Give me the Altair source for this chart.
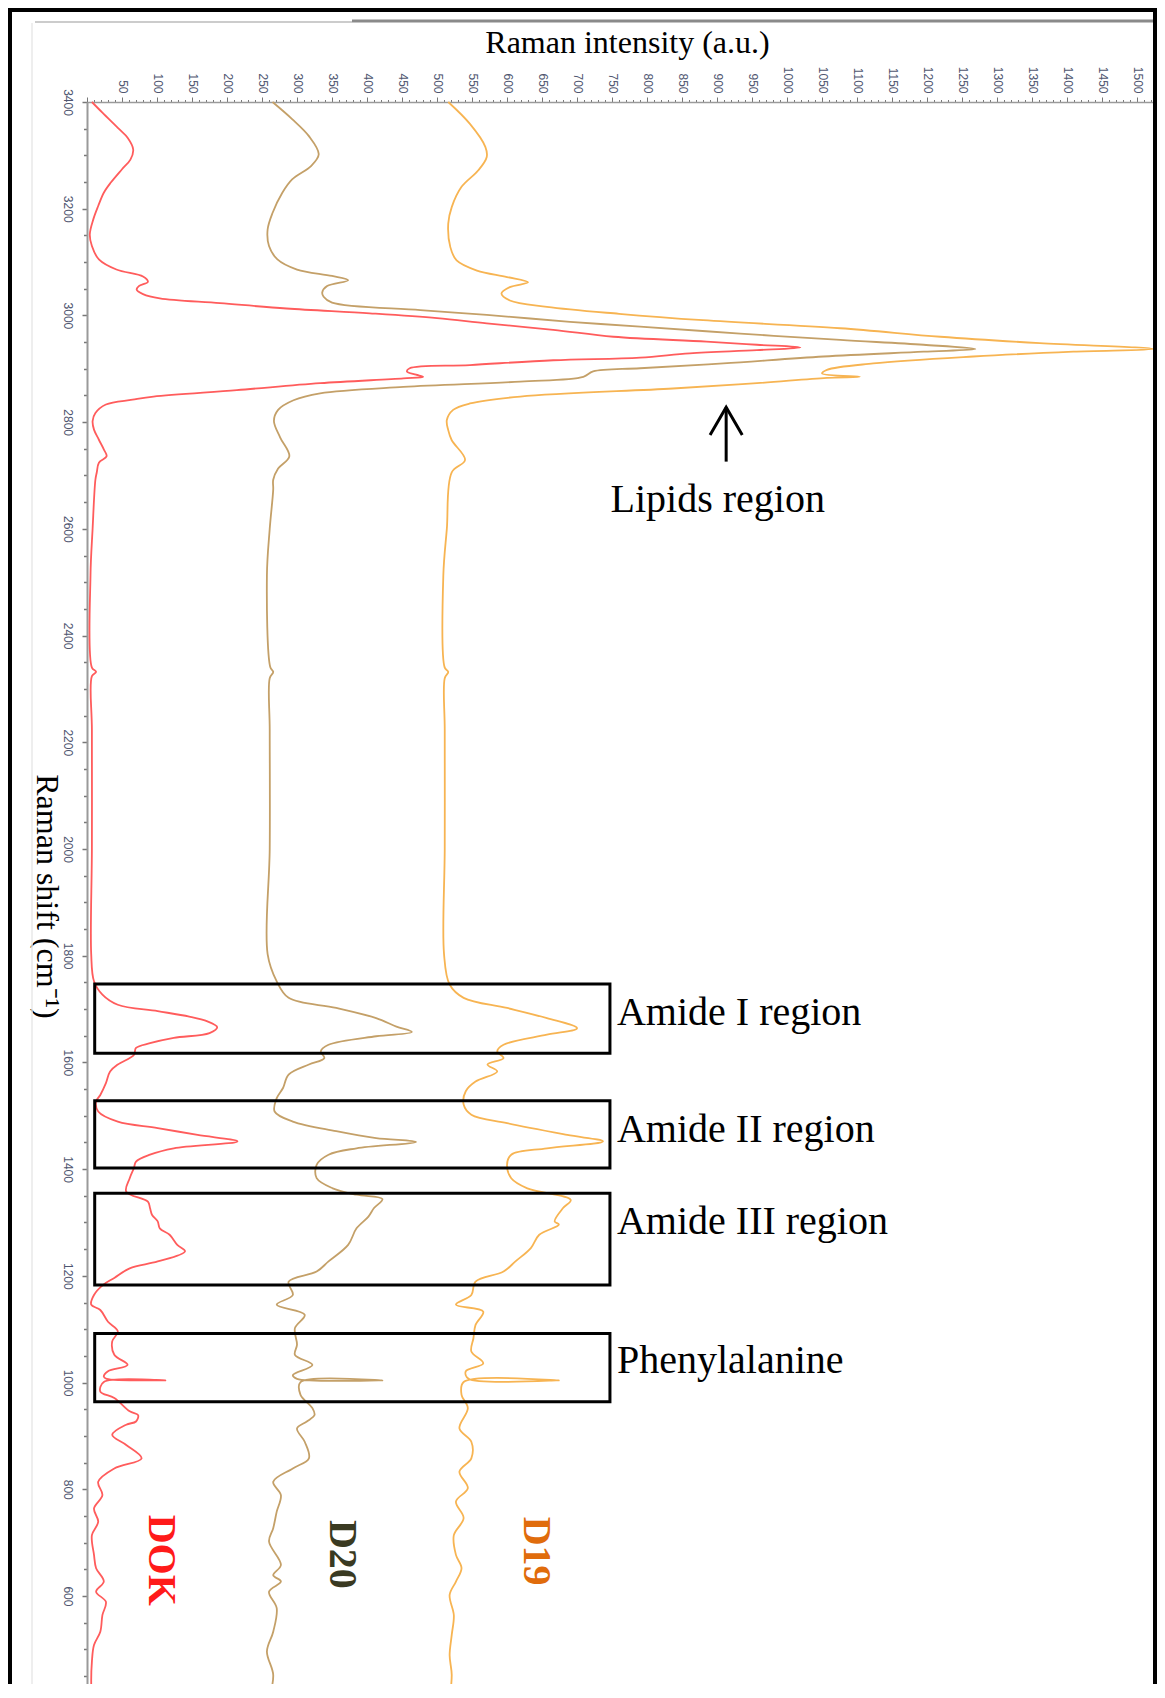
import altair as alt
import pandas as pd

# ---------------- data ----------------
dok_shift = [3400, 3380, 3349, 3333, 3311, 3292, 3274, 3249, 3230, 3205, 3180, 3152, 3130, 3105,
             3086, 3073, 3063, 3055, 3048, 3040, 3032, 3023, 3013, 3004, 2995, 2985, 2973, 2960,
             2951, 2945, 2940, 2935, 2929, 2921, 2916, 2907, 2901, 2895, 2889, 2885, 2882, 2873,
             2860, 2848, 2842, 2833, 2817, 2802, 2786, 2767, 2749, 2736, 2724, 2706, 2692, 2600,
             2513, 2340, 2332, 2324, 2223, 2000, 1803, 1752, 1727, 1708, 1696, 1686, 1677, 1666,
             1655, 1646, 1636, 1627, 1614, 1596, 1583, 1561, 1539, 1527, 1508, 1489, 1477, 1464,
             1452, 1439, 1427, 1414, 1402, 1383, 1358, 1339, 1327, 1314, 1302, 1289, 1277, 1258,
             1246, 1227, 1214, 1196, 1183, 1164, 1146, 1136, 1114, 1096, 1077, 1052, 1033, 1021,
             1011, 1007, 1004, 1001, 983, 971, 946, 939, 927, 921, 902, 883, 858, 839, 814, 789,
             764, 739, 714, 677, 652, 627, 608, 589, 564, 533, 508, 477, 439, 408]
dok_int = [7, 22, 46, 58, 66, 62, 50, 34, 24, 16, 9, 4, 7, 17,
           42, 80, 87, 74, 71, 80, 104, 190, 285, 404, 500, 571, 666, 752,
           885, 957, 1019, 957, 861, 790, 666, 547, 461, 457, 470, 480, 452, 333,
           214, 95, 65, 27, 12, 8, 10, 17, 24, 28, 17, 14, 12, 8,
           5, 7, 13, 7, 7, 7, 6, 10, 22, 44, 101, 146, 172, 186,
           175, 124, 90, 70, 67, 44, 33, 27, 19, 13, 16, 44, 101, 158,
           215, 124, 90, 70, 67, 61, 56, 87, 90, 93, 101, 104, 118, 129,
           140, 101, 61, 39, 23, 10, 6, 19, 30, 44, 36, 39, 58, 30,
           24, 28, 112, 24, 19, 39, 61, 73, 70, 56, 36, 56, 78, 39, 16, 22,
           10, 16, 7, 10, 13, 24, 13, 27, 22, 19, 10, 7, 6, 7]

d20_shift = [3400, 3368, 3336, 3302, 3280, 3255, 3230, 3192, 3161, 3130, 3105, 3086, 3074, 3066,
             3055, 3043, 3035, 3024, 3010, 3001, 2988, 2979, 2966, 2954, 2945, 2937, 2932, 2923,
             2910, 2901, 2895, 2885, 2876, 2866, 2854, 2841, 2823, 2802, 2771, 2736, 2713, 2692,
             2674, 2600, 2513, 2340, 2332, 2320, 2223, 2000, 1803, 1752, 1721, 1702, 1683, 1667,
             1657, 1649, 1633, 1621, 1608, 1596, 1577, 1552, 1533, 1508, 1489, 1471, 1458, 1451,
             1439, 1427, 1408, 1383, 1364, 1352, 1344, 1327, 1311, 1289, 1258, 1227, 1208, 1189,
             1164, 1146, 1127, 1102, 1071, 1052, 1033, 1014, 1007, 1004, 1001, 977, 952, 939,
             927, 914, 889, 858, 839, 814, 789, 758, 727, 702, 658, 639, 627, 608, 577, 533,
             496, 452, 408]
d20_int = [265, 293, 317, 331, 320, 293, 279, 265, 258, 260, 272, 300, 350, 373,
           343, 336, 338, 350, 476, 571, 690, 790, 933, 1076, 1195, 1269, 1195, 1052,
           909, 790, 723, 709, 619, 452, 333, 295, 273, 267, 276, 289, 273, 266,
           266, 261, 257, 262, 266, 261, 261, 261, 258, 271, 288, 356, 413, 442,
           464, 413, 345, 334, 339, 317, 288, 280, 271, 268, 294, 356, 413, 470,
           385, 345, 328, 328, 351, 385, 422, 410, 402, 385, 373, 345, 328, 288,
           294, 271, 311, 297, 300, 297, 322, 294, 300, 422, 305, 305, 322, 325,
           314, 300, 311, 317, 294, 266, 277, 271, 266, 260, 277, 266, 277, 260, 271, 266,
           257, 266, 260]

d19_shift = [3400, 3359, 3316, 3297, 3272, 3241, 3203, 3172, 3128, 3103, 3084, 3072, 3062, 3053,
             3041, 3028, 3016, 3003, 2991, 2976, 2960, 2948, 2937, 2932, 2923, 2910, 2898, 2891,
             2885, 2883, 2873, 2863, 2848, 2835, 2823, 2804, 2785, 2766, 2729, 2706, 2600, 2513,
             2340, 2332, 2320, 2223, 2000, 1803, 1746, 1721, 1702, 1683, 1664, 1652, 1633, 1621,
             1608, 1596, 1583, 1564, 1546, 1521, 1502, 1486, 1464, 1452, 1439, 1427, 1408, 1383,
             1364, 1342, 1327, 1302, 1296, 1277, 1252, 1227, 1208, 1189, 1164, 1146, 1133, 1108,
             1083, 1058, 1036, 1021, 1007, 1004, 1001, 977, 952, 914, 889, 858, 833, 802,
             777, 746, 714, 677, 652, 627, 602, 564, 527, 489, 452, 408]
d19_int = [516, 547, 569, 571, 559, 535, 521, 516, 519, 528, 557, 600, 630, 604,
           592, 604, 657, 760, 880, 1076, 1219, 1361, 1523, 1409, 1266, 1123, 1057, 1050,
           1104, 1057, 957, 837, 619, 547, 523, 514, 516, 521, 540, 521, 514, 509,
           511, 516, 511, 511, 511, 510, 518, 538, 600, 657, 700, 657, 595, 586,
           595, 572, 586, 555, 541, 538, 549, 600, 686, 737, 657, 606, 600, 606,
           629, 691, 680, 668, 674, 646, 634, 612, 595, 555, 549, 527, 566, 555,
           552, 549, 566, 541, 545, 674, 538, 535, 544, 532, 549, 549, 532, 544,
           527, 538, 524, 527, 535, 527, 518, 524, 521, 518, 521, 518]

samples = ["DOK", "D20", "D19"]
line_colors = ["#ff5c5c", "#c4a068", "#f7b452"]

# boxes around spectral regions (Raman shift range, intensity range)
box_left = [11, 11, 11, 11]
box_right = [747, 747, 747, 747]
box_top = [1747, 1528, 1355, 1092]
box_bottom = [1617, 1402, 1183, 964]

region_labels = ["Amide I region", "Amide II region", "Amide III region", "Phenylalanine"]
region_x = [757, 757, 757, 757]
region_y = [1670, 1451, 1278, 1018]

sample_label_x = [106, 364, 641]
sample_label_y = [667, 678, 684]
sample_label_colors = ["#ff1a1a", "#3a3a22", "#e06c0c"]

lipid_label_x = [901]
lipid_label_y = [2631]
arrow_x = [913]
arrow_tip = [2828]
arrow_base = [2726]
arrow_head_x = [890, 913, 936]
arrow_head_y = [2776, 2828, 2776]

x_tick_values = list(range(0, 1530, 10))
y_tick_values = list(range(450, 3401, 50))

# ---------------- tables ----------------
rows = []
for name, s, v in [("DOK", dok_shift, dok_int), ("D20", d20_shift, d20_int), ("D19", d19_shift, d19_int)]:
    for i, (a, b) in enumerate(zip(s, v)):
        rows.append({"sample": name, "shift": a, "intensity": b, "i": i})
spec_df = pd.DataFrame(rows)

box_df = pd.DataFrame({"intensity": box_left, "intensity2": box_right,
                       "shift": box_top, "shift2": box_bottom})
reg_df = pd.DataFrame({"label": region_labels, "intensity": region_x, "shift": region_y})
samp_df = pd.DataFrame({"label": samples, "intensity": sample_label_x, "shift": sample_label_y,
                        "c": sample_label_colors})
lip_df = pd.DataFrame({"label": ["Lipids region"], "intensity": lipid_label_x, "shift": lipid_label_y})
shaft_df = pd.DataFrame({"intensity": arrow_x, "shift": arrow_tip, "shift2": arrow_base})
head_df = pd.DataFrame({"intensity": arrow_head_x, "shift": arrow_head_y, "i": [0, 1, 2]})
one = pd.DataFrame({"k": [0]})

xscale = alt.Scale(domain=[0, 1527], nice=False, zero=False)
yscale = alt.Scale(domain=[435, 3400], nice=False, zero=False)

SERIF = "Liberation Serif"
SANS = "Liberation Sans"

x_axis = alt.Axis(
    orient="top", values=x_tick_values, format="d",
    labelExpr="datum.value % 50 === 0 && datum.value > 0 ? datum.label : ''",
    labelAngle=90, labelAlign="right", labelBaseline="middle", labelPadding=4,
    labelFont=SANS, labelFontSize=12, labelColor="#4f5670", labelOverlap=False, labelFlush=False,
    tickSize={"condition": {"test": "datum.value % 50 === 0", "value": 5}, "value": 2.5},
    tickColor="#777777", tickWidth=1, domainColor="#9a9a9a", domainWidth=1.5, grid=False,
    title="Raman intensity (a.u.)", titleFont=SERIF, titleFontSize=32, titleFontWeight="normal",
    titleColor="#000000", titleX=540, titleY=-50, titleAlign="center", titleBaseline="alphabetic",
)
y_axis = alt.Axis(
    orient="left", values=y_tick_values, format="d",
    labelExpr="datum.value % 200 === 0 ? datum.label : ''",
    labelAngle=90, labelAlign="center", labelBaseline="top", labelPadding=10,
    labelFont=SANS, labelFontSize=12, labelColor="#4f5670", labelOverlap=False, labelFlush=False,
    tickSize={"condition": {"test": "datum.value % 200 === 0", "value": 5}, "value": 3.5},
    tickColor="#777777", tickWidth=1.5, domainColor="#9a9a9a", domainWidth=2, grid=False,
    title="Raman shift (cm⁻¹)", titleFont=SERIF, titleFontSize=32, titleFontWeight="normal",
    titleColor="#000000", titleAngle=90, titleX=-41, titleY=794, titleAlign="center",
    titleBaseline="middle",
)


def X():
    return alt.X("intensity:Q", scale=xscale, axis=x_axis)


def Y():
    return alt.Y("shift:Q", scale=yscale, axis=y_axis)


lines = alt.Chart(spec_df).mark_line(strokeWidth=1.8, interpolate="catmull-rom").encode(
    x=X(), y=Y(),
    color=alt.Color("sample:N", scale=alt.Scale(domain=samples, range=line_colors), legend=None),
    order=alt.Order("i:Q"),
)

boxes = alt.Chart(box_df).mark_rect(fillOpacity=0, stroke="#000000", strokeWidth=3).encode(
    x=X(), x2="intensity2:Q", y=Y(), y2="shift2:Q",
)

regions = alt.Chart(reg_df).mark_text(font=SERIF, fontSize=40, align="left",
                                      baseline="alphabetic", color="#000000").encode(
    x=X(), y=Y(), text="label:N",
)

samp = alt.Chart(samp_df).mark_text(font=SERIF, fontSize=40, fontWeight="bold", angle=90,
                                    align="center", baseline="middle").encode(
    x=X(), y=Y(), text="label:N",
    color=alt.Color("c:N", scale=None),
)

lipid = alt.Chart(lip_df).mark_text(font=SERIF, fontSize=40, align="center",
                                    baseline="alphabetic", color="#000000").encode(
    x=X(), y=Y(), text="label:N",
)

shaft = alt.Chart(shaft_df).mark_rule(strokeWidth=3, color="#000000").encode(
    x=X(), y=Y(), y2="shift2:Q",
)
head = alt.Chart(head_df).mark_line(strokeWidth=3, color="#000000").encode(
    x=X(), y=Y(), order="i:Q",
)

# page decorations (outer frame of the original figure)
frame = alt.Chart(one).mark_rect(fillOpacity=0, stroke="#000000", strokeWidth=4).encode(
    x=alt.value(-77), x2=alt.value(1068), y=alt.value(-92), y2=alt.value(1700),
)
top_light = alt.Chart(one).mark_rule(color="#cccccc", strokeWidth=2).encode(
    x=alt.value(-52), x2=alt.value(265), y=alt.value(-80),
)
top_dark = alt.Chart(one).mark_rule(color="#8a8a8a", strokeWidth=3).encode(
    x=alt.value(265), x2=alt.value(1066), y=alt.value(-81),
)
left_faint = alt.Chart(one).mark_rule(color="#e8e8e8", strokeWidth=1.5).encode(
    x=alt.value(-55), y=alt.value(-79), y2=alt.value(1700),
)

chart = alt.layer(
    lines, boxes, regions, samp, lipid, shaft, head, top_light, top_dark, left_faint, frame
).properties(
    width=1069, height=1582,
    autosize=alt.AutoSizeParams(type="none"),
    padding={"left": 79, "top": 94, "right": 1, "bottom": 0},
    background="#ffffff",
).configure_view(strokeWidth=0)

chart.save("out.html", embed_options={"renderer": "svg", "actions": False})
